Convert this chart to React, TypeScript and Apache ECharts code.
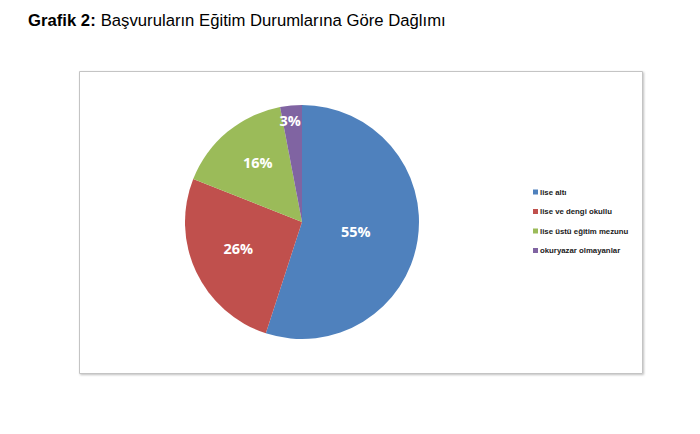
import { useEffect, useRef } from "react";
import * as echarts from "echarts";

const categories = ["lise altı", "lise ve dengi okullu", "lise üstü eğitim mezunu", "okuryazar olmayanlar"];
const values = [55, 26, 16, 3];
const colors = ["#4f81bd", "#c0504d", "#9bbb59", "#8064a2"];
// spacer sizes [width, height] that nudge each label to where Excel put it
const labelNudges = [
  [14, 0],
  [16, 0],
  [10, 24],
  [12, 80],
];

export default function App(): JSX.Element {
  const chartRef = useRef<HTMLDivElement>(null);
  useEffect(() => {
    const myChart = echarts.init(chartRef.current, null, { renderer: "svg" });
    const labelFont = { color: "#fff", fontFamily: "Open Sans", fontWeight: "bold", fontSize: 14.5 };
    const option = {
      animation: false,
      color: colors,
      title: {
        left: 23,
        top: 6,
        text: "{b|Grafik 2:} {n|Başvuruların Eğitim Durumlarına Göre Dağlımı}",
        textStyle: {
          rich: {
            b: { fontFamily: "Liberation Sans", fontWeight: "bold", fontSize: 16.7, color: "#000" },
            n: { fontFamily: "Liberation Sans", fontWeight: "normal", fontSize: 16.7, color: "#000" },
          },
        },
      },
      graphic: [
        {
          type: "rect",
          shape: { x: 79.5, y: 71.5, width: 563, height: 302 },
          style: {
            fill: "#fff",
            stroke: "#c4c4c4",
            lineWidth: 1,
            shadowColor: "rgba(0,0,0,0.25)",
            shadowBlur: 2,
            shadowOffsetX: 1,
            shadowOffsetY: 1,
          },
          z: -1,
        },
      ],
      legend: {
        orient: "vertical",
        left: 528,
        top: 182,
        icon: "rect",
        itemWidth: 5,
        itemHeight: 5,
        itemGap: 9.5,
        textStyle: {
          fontFamily: "Liberation Sans Narrow, Liberation Sans",
          fontWeight: "bold",
          fontSize: 7.8,
          lineHeight: 10,
          color: "#1a1a1a",
          padding: [0, 0, 0, -3],
        },
        data: categories,
      },
      series: [
        {
          type: "pie",
          center: [302, 222],
          radius: 117,
          startAngle: 90,
          clockwise: true,
          avoidLabelOverlap: false,
          labelLine: { show: false },
          emphasis: { disabled: true },
          itemStyle: { borderWidth: 0 },
          data: categories.map((name, i) => ({
            name,
            value: values[i],
            label: {
              show: true,
              position: "inside",
              formatter: "{v|{d}%}{w|}\n{h|}",
              rich: {
                v: labelFont,
                w: { width: labelNudges[i][0], height: 1 },
                h: { height: labelNudges[i][1], lineHeight: labelNudges[i][1] },
              },
            },
          })),
        },
      ],
    };
    myChart.setOption(option);
    return () => {
      myChart.dispose();
    };
  }, []);

  return (
    <div
      ref={chartRef}
      style={{ position: "fixed", left: 0, top: 0, width: "700px", height: "434px", background: "#fff" }}
    ></div>
  );
}
